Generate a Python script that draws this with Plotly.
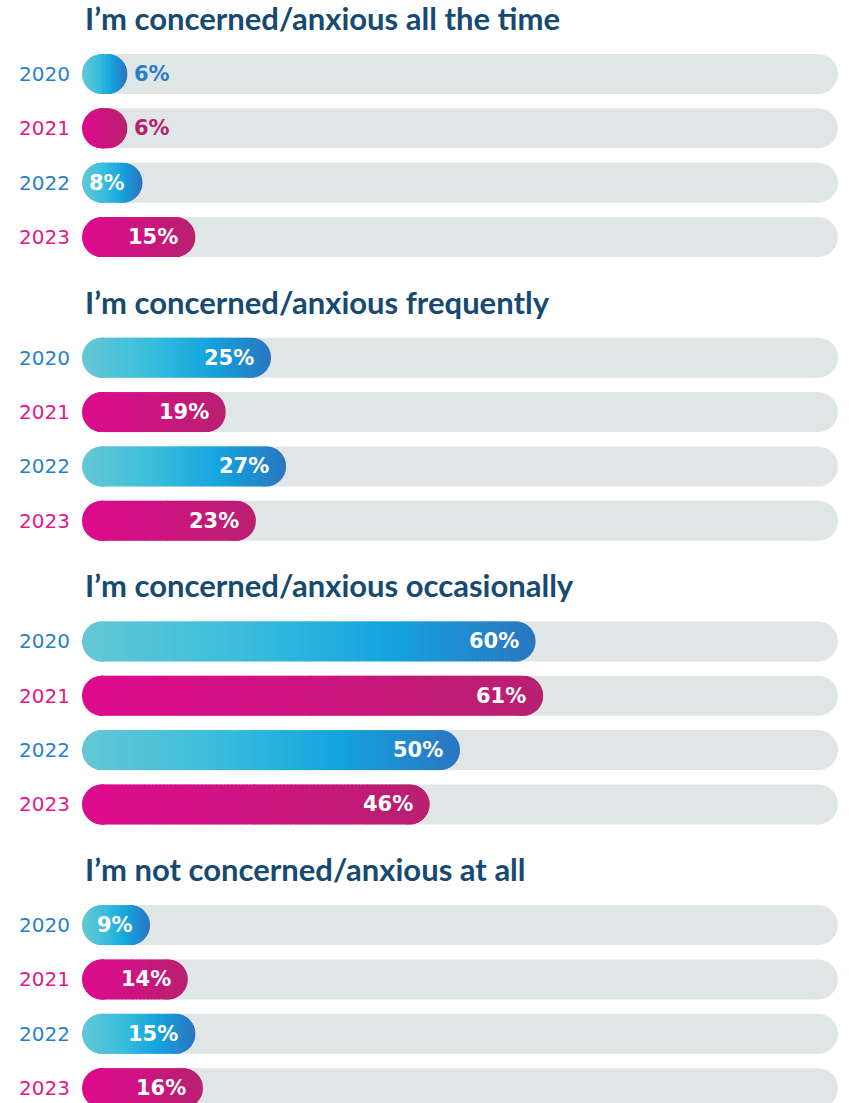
import math
import plotly.graph_objects as go

# ---------------- data ----------------
years = ["2020", "2021", "2022", "2023"]
titles = [
    "I’m concerned/anxious all the time",
    "I’m concerned/anxious frequently",
    "I’m concerned/anxious occasionally",
    "I’m not concerned/anxious at all",
]
all_the_time = [6, 6, 8, 15]
frequently = [25, 19, 27, 23]
occasionally = [60, 61, 50, 46]
not_at_all = [9, 14, 15, 16]
panels = [all_the_time, frequently, occasionally, not_at_all]

# ---------------- style ----------------
W, H = 849, 1103
X0, X1 = 82, 838
PX = (X1 - X0) / 100.0          # pixels per percentage unit
BAR_H = 40
R = BAR_H / 2                   # corner radius in px
RU = R / PX                     # corner radius in x units
GREY = "#e0e6e6"
TITLE_C = "#174a70"
YEAR_C = ["#2a7fc8", "#e0198c"]
BLUE_STOPS = [(0.0, (100, 200, 212)), (0.35, (58, 190, 220)), (0.68, (20, 164, 222)), (1.0, (42, 118, 192))]
PINK_STOPS = [(0.0, (221, 10, 141)), (0.5, (205, 20, 128)), (1.0, (184, 32, 112))]
END_C = ["#2a7ec6", "#b51f70"]


def ypos(p, r):
    return 74 + 283.7 * p + 54.35 * r


def grad(stops, t):
    t = max(0.0, min(1.0, t))
    for (t0, c0), (t1, c1) in zip(stops[:-1], stops[1:]):
        if t <= t1:
            f = (t - t0) / (t1 - t0) if t1 > t0 else 0
            c = [round(a + (b - a) * f) for a, b in zip(c0, c1)]
            return "rgb(%d,%d,%d)" % tuple(c)
    return "rgb(%d,%d,%d)" % stops[-1][1]


def chord(d_px):
    """height of the pill at distance d_px (px) from its end"""
    d = max(0.0, min(R, d_px))
    return 2 * math.sqrt(max(0.0, R * R - (R - d) ** 2))


fig = go.Figure()

# grey track: two rounded caps + square middle
gy, gb, gx = [], [], []
mid_y, mid_b, mid_x = [], [], []
for p in range(4):
    for r in range(4):
        y = ypos(p, r)
        gy += [y, y]
        gb += [2 * RU, 100 - 2 * RU]
        gx += [-2 * RU, 2 * RU]
        mid_y.append(y)
        mid_b.append(RU)
        mid_x.append(100 - 2 * RU)
fig.add_trace(go.Bar(orientation="h", y=gy, base=gb, x=gx, width=BAR_H,
                     marker=dict(color=GREY, line=dict(width=0), cornerradius=R),
                     hoverinfo="skip", showlegend=False))
fig.add_trace(go.Bar(orientation="h", y=mid_y, base=mid_b, x=mid_x, width=BAR_H,
                     marker=dict(color=GREY, line=dict(width=0), cornerradius=0),
                     hoverinfo="skip", showlegend=False))

# coloured value bars: rounded caps underneath, gradient slices on top
cy, cb, cx, cc = [], [], [], []
sy, sb, sx, sc, sw = [], [], [], [], []
STEP = 0.5
CSTEP = 1.0 / PX
OV = 0.12
for p, vals in enumerate(panels):
    for r, v in enumerate(vals):
        y = ypos(p, r)
        stops = BLUE_STOPS if r % 2 == 0 else PINK_STOPS
        # right cap first, then left cap on top
        cy += [y, y]
        cb += [v - 2 * RU, 2 * RU]
        cx += [2 * RU, -2 * RU]
        cc += [grad(stops, 1), grad(stops, 0)]
        # slices across the full bar
        s = 0.0
        while s < v - 1e-9:
            e = min(s + (CSTEP if (s < RU or s >= v - RU - 1e-9) else STEP), v)
            dl = s * PX
            dr = (v - e) * PX
            h = min(chord(dl), chord(dr), BAR_H)
            if h >= 1.5:
                mid_s = (s + e) / 2
                if mid_s > v / 2:
                    b0, b1 = s - OV, e          # extend toward centre (left)
                else:
                    b0, b1 = s, e + OV          # extend toward centre (right)
                sy.append(y)
                sb.append(b0)
                sx.append(b1 - b0)
                sw.append(h)
                sc.append(grad(stops, mid_s / v))
            s = e
fig.add_trace(go.Bar(orientation="h", y=cy, base=cb, x=cx, width=BAR_H,
                     marker=dict(color=cc, line=dict(width=0), cornerradius=R),
                     hoverinfo="skip", showlegend=False))
fig.add_trace(go.Bar(orientation="h", y=sy, base=sb, x=sx, width=sw,
                     marker=dict(color=sc, line=dict(width=0), cornerradius=0),
                     hoverinfo="skip", showlegend=False))

annotations = []
for p, vals in enumerate(panels):
    annotations.append(dict(x=0, y=ypos(p, 0) - 56, xref="x", yref="y", text="<b>%s</b>" % titles[p],
                            showarrow=False, xanchor="left", yanchor="middle", xshift=1,
                            font=dict(family="Lato", size=31, color=TITLE_C)))
    for r, v in enumerate(vals):
        y = ypos(p, r)
        annotations.append(dict(x=0, y=y, xref="x", yref="y", text=years[r], showarrow=False,
                                xanchor="right", yanchor="middle", xshift=-10,
                                font=dict(family="DejaVu Sans", size=20, color=YEAR_C[r % 2])))
        if v * PX < 55:
            annotations.append(dict(x=v, y=y, xref="x", yref="y", text="<b>%d%%</b>" % v,
                                    showarrow=False, xanchor="left", yanchor="middle", xshift=5,
                                    font=dict(family="DejaVu Sans", size=21, color=END_C[r % 2])))
        else:
            annotations.append(dict(x=v, y=y, xref="x", yref="y", text="<b>%d%%</b>" % v,
                                    showarrow=False, xanchor="right", yanchor="middle", xshift=-15,
                                    font=dict(family="DejaVu Sans", size=21, color="white")))

fig.update_layout(
    template="none",
    width=W, height=H,
    margin=dict(l=X0, r=W - X1, t=0, b=0),
    paper_bgcolor="white", plot_bgcolor="white",
    barmode="overlay",
    xaxis=dict(range=[0, 100], visible=False, fixedrange=True),
    yaxis=dict(range=[H, 0], visible=False, fixedrange=True),
    annotations=annotations,
    showlegend=False,
)

fig.write_html("out.html")
